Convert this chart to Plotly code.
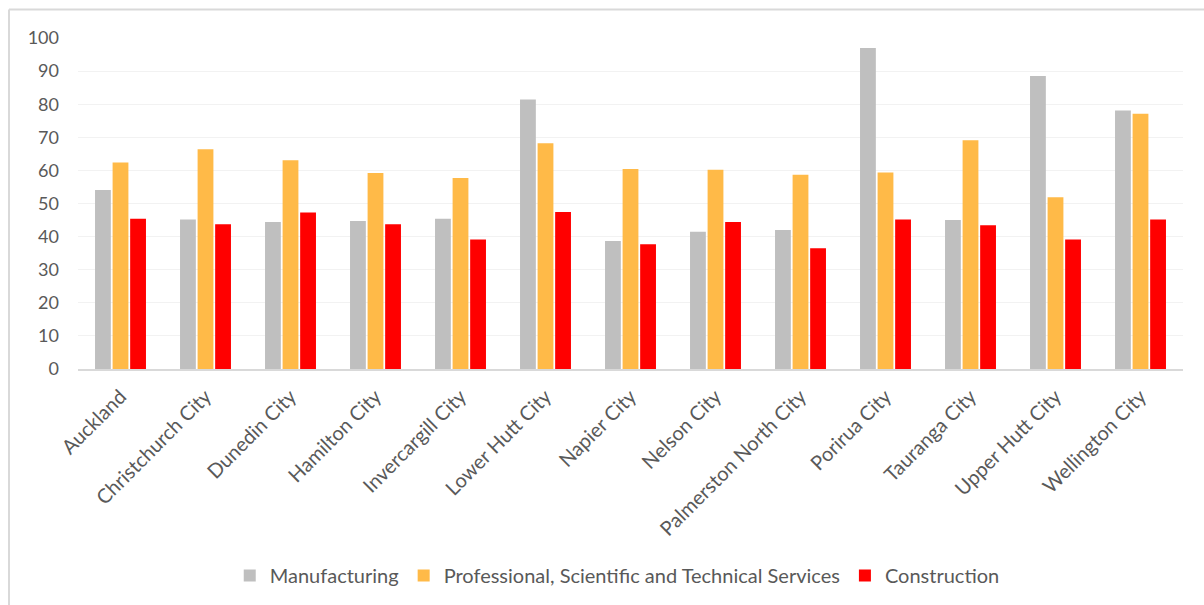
import plotly.graph_objects as go

cities = ["Auckland", "Christchurch City", "Dunedin City", "Hamilton City", "Invercargill City",
          "Lower Hutt City", "Napier City", "Nelson City", "Palmerston North City", "Porirua City",
          "Tauranga City", "Upper Hutt City", "Wellington City"]
manufacturing = [54.1, 45.2, 44.4, 44.7, 45.4, 81.4, 38.7, 41.5, 42.0, 97.0, 45.0, 88.5, 78.1]
professional = [62.4, 66.4, 63.1, 59.2, 57.7, 68.2, 60.4, 60.2, 58.7, 59.4, 69.1, 51.9, 77.1]
construction = [45.4, 43.7, 47.3, 43.7, 39.1, 47.4, 37.7, 44.4, 36.5, 45.2, 43.4, 39.1, 45.2]
y_ticks = [0, 10, 20, 30, 40, 50, 60, 70, 80, 90, 100]

series = [
    ("Manufacturing", manufacturing, "#BFBFBF"),
    ("Professional, Scientific and Technical Services", professional, "#FFBA48"),
    ("Construction", construction, "#FF0000"),
]

fig = go.Figure()
for name, vals, color in series:
    fig.add_trace(go.Bar(x=cities, y=vals, name=name,
                         marker=dict(color=color, line=dict(width=0))))

FONT = "Lato"
TXT = "#595959"
L, R, T, B = 78, 21, 37.5, 235.5
W, H = 1204, 605
pw, ph = W - L - R, H - T - B

fig.update_layout(
    width=W, height=H,
    margin=dict(l=L, r=R, t=T, b=B, pad=0, autoexpand=False),
    paper_bgcolor="white", plot_bgcolor="white",
    barmode="group", bargap=0.38, bargroupgap=0.1,
    font=dict(family=FONT, color=TXT),
    showlegend=True,
    legend=dict(orientation="h", x=0.488, xanchor="center", y=-0.624, yanchor="middle",
                font=dict(family=FONT, size=20, color=TXT), itemwidth=30,
                traceorder="normal"),
    xaxis=dict(tickangle=-45, tickfont=dict(size=20, color=TXT), showgrid=False,
               showline=True, linecolor="#D9D9D9", linewidth=2, ticks="",
               ticklabelstandoff=6, automargin=False),
    yaxis=dict(range=[0, 100], tickvals=y_ticks, tickfont=dict(size=18, color=TXT),
               showgrid=True, gridcolor="#F2F2F2", gridwidth=1, zeroline=False,
               showline=False, ticks="", ticklabelstandoff=18, automargin=False),
)

# outer chart border (left and top visible)
bx = (9 - L) / pw
by = (H - B - 9) / ph
fig.add_shape(type="line", xref="paper", yref="paper", x0=bx, x1=bx, y0=by, y1=-2,
              line=dict(color="#D9D9D9", width=2))
fig.add_shape(type="line", xref="paper", yref="paper", x0=bx, x1=2, y0=by, y1=by,
              line=dict(color="#D9D9D9", width=2))

fig.write_html("out.html")
